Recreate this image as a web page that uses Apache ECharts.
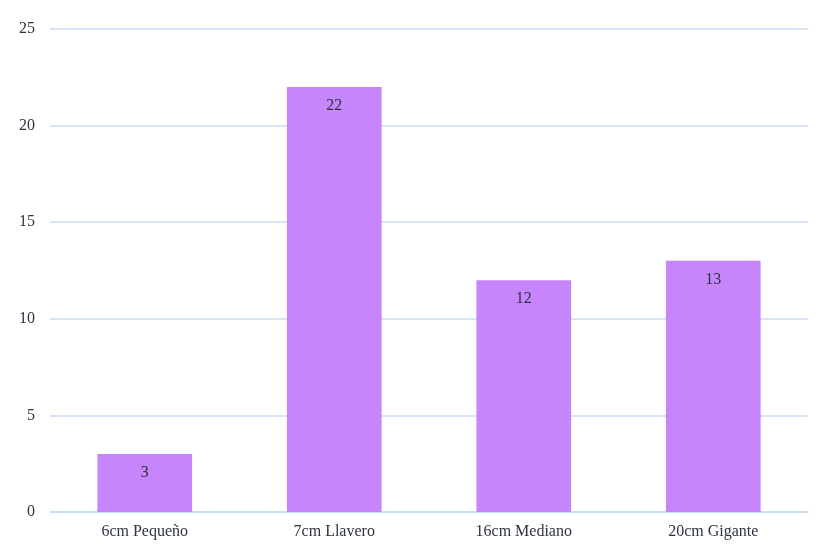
<!DOCTYPE html>
<html><head><meta charset="utf-8">
<script src="https://cdn.jsdelivr.net/npm/echarts@6/dist/echarts.min.js"></script>
<style>html,body{margin:0;padding:0;background:#fff}#c{width:819px;height:549px}</style>
</head><body><div id="c"></div>
<script>
const categories = ['6cm Pequeño', '7cm Llavero', '16cm Mediano', '20cm Gigante'];
const values = [3, 22, 12, 13];
const yTicks = { min: 0, max: 25, interval: 5 };

const chart = echarts.init(document.getElementById('c'));
const font = '"Liberation Serif", "Times New Roman", serif';
chart.setOption({
  animation: false,
  grid: { left: 50, right: 11, top: 29, bottom: 37, containLabel: false },
  xAxis: {
    type: 'category', data: categories,
    axisLine: { lineStyle: { color: '#c9dbf2', width: 1.5 } },
    axisTick: { show: false },
    axisLabel: { color: '#2e3340', fontFamily: font, fontSize: 16, margin: 12 }
  },
  yAxis: {
    type: 'value', min: yTicks.min, max: yTicks.max, interval: yTicks.interval,
    axisLine: { show: false }, axisTick: { show: false },
    splitLine: { lineStyle: { color: '#c9dbf2', width: 1.5 } },
    axisLabel: { color: '#2e3340', fontFamily: font, fontSize: 16, margin: 15 }
  },
  series: [{
    type: 'bar', data: values, barWidth: '50%',
    itemStyle: { color: '#c785fb' },
    label: { show: true, position: 'insideTop', distance: 11, color: '#2e3340', fontFamily: font, fontSize: 16 }
  }]
});
</script></body></html>
